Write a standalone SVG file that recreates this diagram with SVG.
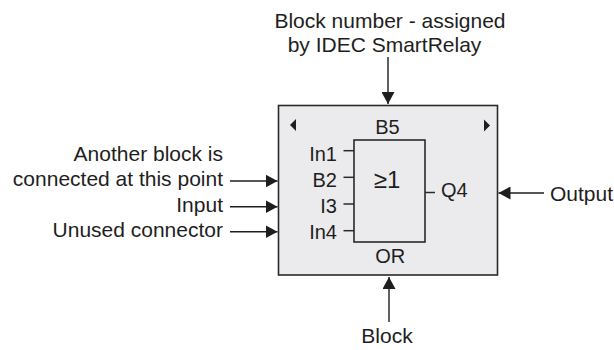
<svg xmlns="http://www.w3.org/2000/svg" width="614" height="350" viewBox="0 0 614 350">
<style>
text{font-family:"Liberation Sans",Arial,sans-serif;fill:#1e1e1e}
.lbl{font-size:21px}
.pin{font-size:20px}
.big{font-size:24px}
.box{fill:#ebebed;stroke:#2a2a2a;stroke-width:1.6}
.inner{fill:none;stroke:#2a2a2a;stroke-width:1.6}
.tick{stroke:#2a2a2a;stroke-width:1.5}
.conn{stroke:#1e1e1e;stroke-width:1.4;fill:none}
.tri{fill:#1e1e1e}
</style>
<defs>
<marker id="ah" markerUnits="userSpaceOnUse" markerWidth="12" markerHeight="13" refX="12" refY="6.5" orient="auto">
<path d="M0,0 L12,6.5 L0,13 z" fill="#1e1e1e"/>
</marker>
</defs>

<g id="block-B5">
<rect class="box" x="278.5" y="105.5" width="219" height="169.5"/>
<polygon class="tri" points="296,119 296,131 290,125"/>
<polygon class="tri" points="484,119.5 484,131.5 490,125.5"/>
<text class="pin" x="387.5" y="134.3" text-anchor="middle">B5</text>
<rect class="inner" x="354" y="140" width="71" height="102"/>
<text class="big" x="387" y="187.5" text-anchor="middle">≥1</text>
<text class="pin" x="337" y="161" text-anchor="end">In1</text>
<text class="pin" x="337" y="186.7" text-anchor="end">B2</text>
<text class="pin" x="337" y="212.7" text-anchor="end">I3</text>
<text class="pin" x="337" y="239" text-anchor="end">In4</text>
<line class="tick" x1="343.5" y1="150.7" x2="354" y2="150.7"/>
<line class="tick" x1="343.5" y1="177.3" x2="354" y2="177.3"/>
<line class="tick" x1="343.5" y1="204" x2="354" y2="204"/>
<line class="tick" x1="343.5" y1="230.7" x2="354" y2="230.7"/>
<line class="tick" x1="425" y1="192.5" x2="435" y2="192.5"/>
<text class="pin" x="441" y="197">Q4</text>
<text class="pin" x="390.3" y="263.3" text-anchor="middle">OR</text>
</g>

<g id="label-title">
<text class="lbl" x="390" y="28.3" text-anchor="middle">Block number - assigned</text>
<text class="lbl" x="384.5" y="51.7" text-anchor="middle">by IDEC SmartRelay</text>
</g>

<g id="label-another">
<text class="lbl" x="223" y="161" text-anchor="end">Another block is</text>
<text class="lbl" x="223" y="186" text-anchor="end">connected at this point</text>
</g>

<g id="label-input">
<text class="lbl" x="223" y="211.5" text-anchor="end">Input</text>
</g>

<g id="label-unused">
<text class="lbl" x="223" y="236.7" text-anchor="end">Unused connector</text>
</g>

<g id="label-output">
<text class="lbl" x="550" y="200.5">Output</text>
</g>

<g id="label-block">
<text class="lbl" x="387" y="343" text-anchor="middle">Block</text>
</g>

<g id="connectors">
<line class="conn" x1="388" y1="57" x2="388" y2="104" marker-end="url(#ah)"/>
<line class="conn" x1="389" y1="322" x2="389" y2="277" marker-end="url(#ah)"/>
<line class="conn" x1="230" y1="181" x2="277.5" y2="181" marker-end="url(#ah)"/>
<line class="conn" x1="230" y1="206.7" x2="277.5" y2="206.7" marker-end="url(#ah)"/>
<line class="conn" x1="230" y1="231.7" x2="277.5" y2="231.7" marker-end="url(#ah)"/>
<line class="conn" x1="544" y1="193" x2="498.5" y2="193" marker-end="url(#ah)"/>
</g>
</svg>
